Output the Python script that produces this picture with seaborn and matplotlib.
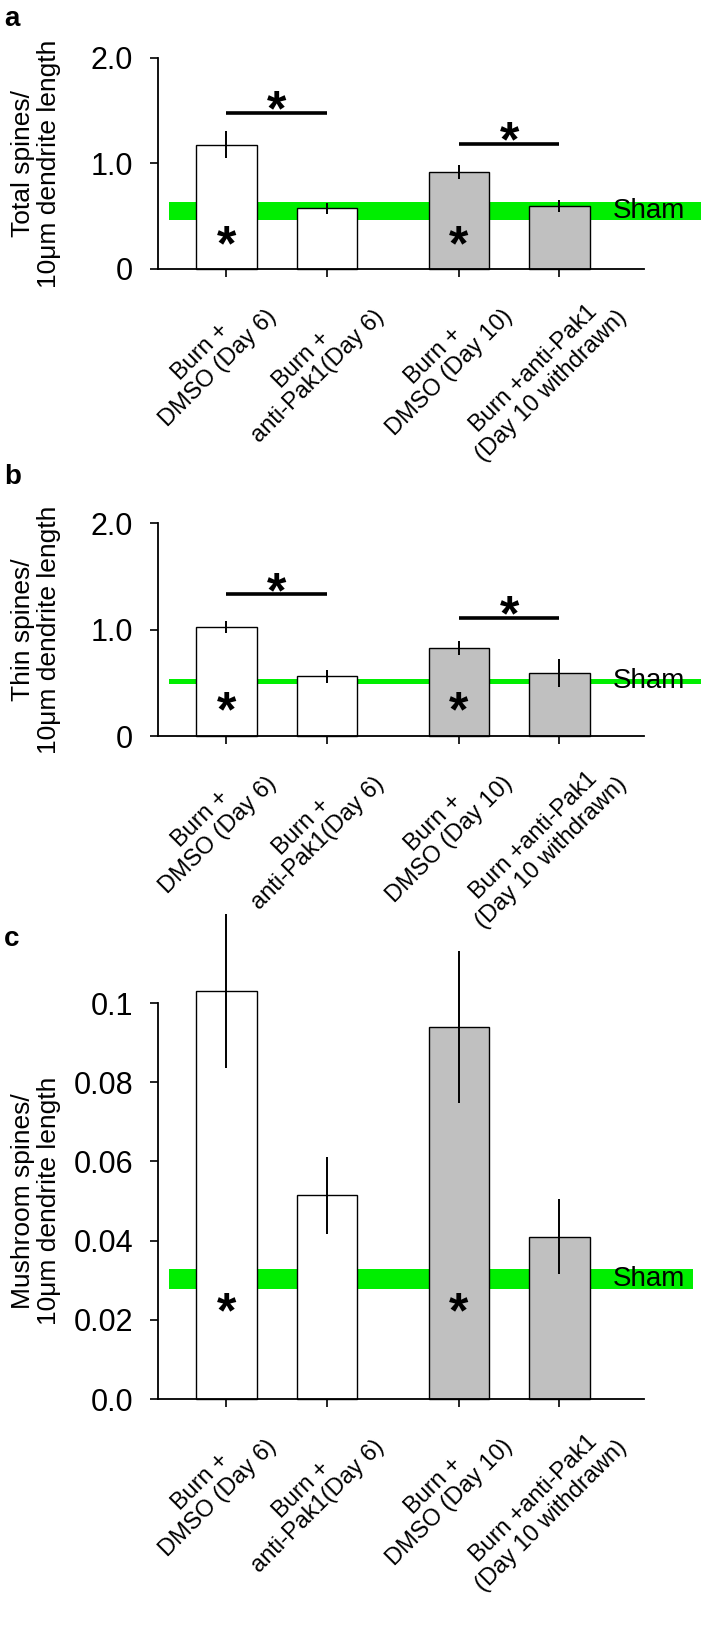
import matplotlib.pyplot as plt
import matplotlib.transforms as mtransforms
import pandas as pd
import seaborn as sns

# bar groups (same four in every panel)
groups = ["Burn +\nDMSO (Day 6)", "Burn +\nanti-Pak1(Day 6)",
          "Burn +\nDMSO (Day 10)", "Burn +anti-Pak1\n(Day 10 withdrawn)"]
positions = [0, 1, 2.31, 3.31]
bar_colors = ["white", "white", "#c0c0c0", "#c0c0c0"]

# panel a - total spines
total_mean = [1.175, 0.576, 0.923, 0.598]
total_err = [0.128, 0.052, 0.066, 0.054]
total_sham = [0.46, 0.633]
total_sig = [(0, 1, 1.48), (2, 3, 1.184)]
total_star_y = 0.35

# panel b - thin spines
thin_mean = [1.024, 0.56, 0.83, 0.595]
thin_err = [0.06, 0.062, 0.066, 0.13]
thin_sham = [0.486, 0.54]
thin_sig = [(0, 1, 1.33), (2, 3, 1.11)]
thin_star_y = 0.356

# panel c - mushroom spines
mush_mean = [0.103, 0.0515, 0.094, 0.041]
mush_err = [0.0195, 0.0097, 0.0192, 0.0095]
mush_sham = [0.0277, 0.0328]
mush_star_y = 0.0253

star_bars = [0, 2]

sns.set_style("ticks")
plt.rcParams['font.family'] = ['Liberation Sans', 'DejaVu Sans']
plt.rcParams.update({"text.color": "black", "axes.labelcolor": "black",
                     "xtick.color": "black", "ytick.color": "black",
                     "axes.edgecolor": "black"})

fig = plt.figure(figsize=(7.01, 16.27), dpi=100)


def star(ax, x, y, size=36):
    # put the centre of the asterisk glyph on (x, y)
    off = mtransforms.ScaledTranslation(0, -0.57 * size / 72, fig.dpi_scale_trans)
    ax.text(x, y, "*", ha="center", va="baseline", fontsize=size,
            fontweight="bold", transform=ax.transData + off, zorder=5)


def panel(rect, mean, err, sham, ylim, yticks, yticklabels, ylabel,
          sig=None, star_y=None, sig_gap=0.15, sham_xmax=1.12):
    ax = fig.add_axes(rect)
    df = pd.DataFrame({"pos": positions, "val": mean, "grp": groups})
    sns.barplot(data=df, x="pos", y="val", hue="grp", palette=bar_colors,
                native_scale=True, width=0.6, dodge=False, errorbar=None,
                edgecolor="black", linewidth=1.0, legend=False, ax=ax, zorder=2)
    for p in ax.patches:
        p.set_clip_on(False)
    ax.errorbar(positions, mean, yerr=err, fmt="none", ecolor="black",
                elinewidth=1.4, capsize=0, clip_on=False, zorder=3)
    ax.axhspan(sham[0], sham[1], xmin=0.023, xmax=sham_xmax, color="#00ee00",
               lw=0, zorder=0.5, clip_on=False)
    ax.text(3.84, (sham[0] + sham[1]) / 2, "Sham", ha="left", va="center",
            fontsize=20, zorder=4)

    if sig:
        for i, j, h in sig:
            ax.plot([positions[i], positions[j]], [h, h], color="black", lw=2.6,
                    solid_capstyle="butt", clip_on=False)
            star(ax, (positions[i] + positions[j]) / 2, h + sig_gap)
    for b in star_bars:
        star(ax, positions[b], star_y)

    ax.set_xlim(-0.68, 4.15)
    ax.set_ylim(*ylim)
    ax.set_yticks(yticks)
    ax.set_yticklabels(yticklabels)
    ax.set_xticks(positions)
    ax.set_xlabel("")
    ax.set_ylabel(ylabel, fontsize=19, linespacing=1.1)
    ax.yaxis.set_label_coords(-0.2, 0.5)
    ax.tick_params(axis="y", labelsize=22, length=6, width=1.2, pad=12)
    ax.tick_params(axis="x", length=6, width=1.2, pad=7)
    ax.set_xticklabels(groups, rotation=45, ha="center", va="top",
                       multialignment="center", fontsize=17, linespacing=1.1)
    # nudge the slanted labels a little to the left, as in the original
    shift = mtransforms.ScaledTranslation(-0.17, -0.02, fig.dpi_scale_trans)
    for lab in ax.get_xticklabels():
        lab.set_transform(lab.get_transform() + shift)
    sns.despine(ax=ax)
    for s in ["left", "bottom"]:
        ax.spines[s].set_linewidth(1.3)
    return ax


left, width = 0.2254, 0.6933
panel([left, 0.8347, width, 0.1297], total_mean, total_err, total_sham,
      (0, 2.0), [0, 1, 2], ["0", "1.0", "2.0"],
      "Total spines/\n10\u03bcm dendrite length",
      sig=total_sig, star_y=total_star_y, sig_gap=0.15)
panel([left, 0.5476, width, 0.1309], thin_mean, thin_err, thin_sham,
      (0, 2.0), [0, 1, 2], ["0", "1.0", "2.0"],
      "Thin spines/\n10\u03bcm dendrite length",
      sig=thin_sig, star_y=thin_star_y, sig_gap=0.15)
panel([left, 0.1401, width, 0.2434], mush_mean, mush_err, mush_sham,
      (0, 0.1), [0, 0.02, 0.04, 0.06, 0.08, 0.1],
      ["0.0", "0.02", "0.04", "0.06", "0.08", "0.1"],
      "Mushroom spines/\n10\u03bcm dendrite length",
      star_y=mush_star_y, sham_xmax=1.10)

for lab, y in [("a", 0.9965), ("b", 0.715), ("c", 0.431)]:
    fig.text(0.006, y, lab, fontsize=20, fontweight="bold", va="top", ha="left")

fig.savefig("out.png", dpi=100)
